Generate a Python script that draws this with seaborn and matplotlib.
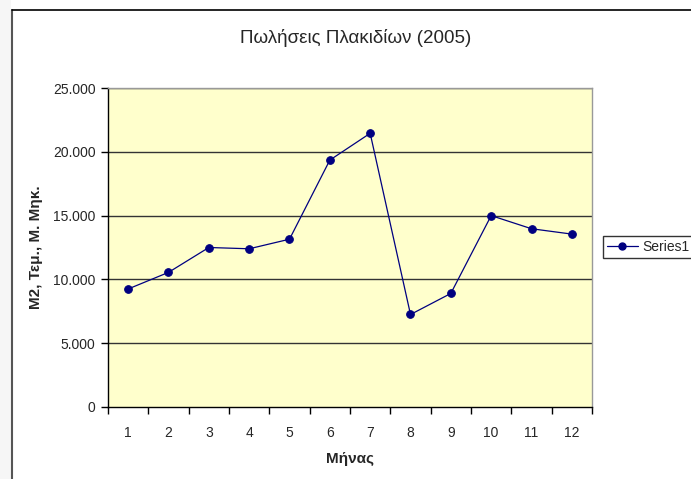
import numpy as np
import pandas as pd
import seaborn as sns
import matplotlib
matplotlib.use("Agg")
import matplotlib.pyplot as plt
import matplotlib.ticker as tick
from matplotlib.patches import Rectangle
from matplotlib.lines import Line2D

# data
months = [1, 2, 3, 4, 5, 6, 7, 8, 9, 10, 11, 12]
sales = [9250, 10550, 12500, 12400, 13150, 19350, 21450, 7250, 8900, 15000, 13970, 13550]
y_ticks = [0, 5000, 10000, 15000, 20000, 25000]

df = pd.DataFrame({'Month': months, 'Sales': sales})

sns.set_style("white")
plt.rcParams['font.family'] = ['Liberation Sans', 'DejaVu Sans']

W, H = 691, 479
fig = plt.figure(figsize=(W / 100, H / 100), dpi=100)

# grey strip left of the chart area + chart border
fig.patches.append(Rectangle((0, 0), 11 / W, 1, transform=fig.transFigure,
                             facecolor='#f6f6f6', edgecolor='none', zorder=0))
fig.lines.append(Line2D([11.5 / W, 11.5 / W], [0, 1 - 9.5 / H], transform=fig.transFigure,
                        color='#555555', lw=1.5))
fig.lines.append(Line2D([11.5 / W, 1], [1 - 9.5 / H, 1 - 9.5 / H], transform=fig.transFigure,
                        color='black', lw=1.2))

ax = fig.add_axes([108 / W, (H - 407) / H, 484 / W, 319 / H])
ax.set_facecolor('#ffffcc')

for yv in y_ticks[1:]:
    ax.axhline(yv, color='#333333', lw=1.0, zorder=1)

sns.lineplot(data=df, x='Month', y='Sales', ax=ax, color='#000080', lw=0.9,
             marker='o', markersize=5.5, markeredgecolor='#000080', label='Series1',
             legend=False, zorder=3)

ax.set_xlim(0.5, 12.5)
ax.set_ylim(0, 25000)
ax.set_yticks(y_ticks)
ax.yaxis.set_major_formatter(tick.FuncFormatter(lambda v, p: f"{int(v):,}".replace(',', '.')))

# category axis: tick marks between the months, labels in the middle
ax.set_xticks(np.arange(0.5, 13, 1))
ax.set_xticklabels([])
ax.set_xticks(months, minor=True)
ax.set_xticklabels([str(m) for m in months], minor=True)
ax.tick_params(axis='x', which='major', direction='out', length=5, width=1, color='black', bottom=True)
ax.tick_params(axis='x', which='minor', length=0, pad=14, labelsize=10)
ax.tick_params(axis='y', direction='out', length=5, width=1, color='black', left=True,
               labelsize=10, pad=4)

for s in ['left', 'bottom']:
    ax.spines[s].set_color('black')
    ax.spines[s].set_linewidth(1.0)
for s in ['top', 'right']:
    ax.spines[s].set_color('#999999')
    ax.spines[s].set_linewidth(1.0)

ax.set_xlabel('Μήνας', fontsize=11, fontweight='bold', labelpad=8)
ax.set_ylabel('M2, Τεμ., Μ. Μηκ.', fontsize=11, fontweight='bold', labelpad=7)

fig.text(356 / W, 1 - 38 / H, 'Πωλήσεις Πλακιδίων (2005)', ha='center', va='center',
         fontsize=13.5)

handles = [Line2D([], [], color='#000080', lw=0.9, marker='o', markersize=5)]
leg = fig.legend(handles, ['Series1'], loc='center left', bbox_to_anchor=(603 / W, 1 - 247 / H),
                 frameon=True, fancybox=False, fontsize=10, handlelength=2.2,
                 borderpad=0.3, handletextpad=0.3, borderaxespad=0)
leg.get_frame().set_edgecolor('black')
leg.get_frame().set_linewidth(1.0)

fig.savefig('out.png', dpi=100)
